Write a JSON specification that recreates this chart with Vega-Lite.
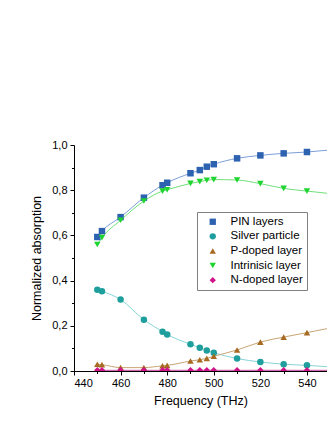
{
  "$schema": "https://vega.github.io/schema/vega-lite/v6.json",
  "width": 253,
  "height": 226,
  "autosize": "none",
  "padding": {"left": 74, "top": 145, "right": 0, "bottom": 52},
  "background": "white",
  "config": {
    "view": {"stroke": null},
    "font": "Liberation Sans",
    "axis": {"domainColor": "black", "tickColor": "black", "labelColor": "black", "titleColor": "black", "grid": false, "labelFont": "Liberation Sans", "titleFont": "Liberation Sans", "labelFontSize": 11, "titleFontSize": 12.5, "titleFontWeight": "normal"},
    "legend": {"strokeColor": "#808080", "fillColor": "white", "padding": 4, "labelFontSize": 11.5, "labelFont": "Liberation Sans", "labelColor": "black", "symbolSize": 40, "rowPadding": 1.6, "symbolOffset": 6, "labelOffset": 12}
  },
  "data": {"values": [
    {"f":450,"s":"PIN layers","v":0.593},{"f":452,"s":"PIN layers","v":0.619},{"f":460,"s":"PIN layers","v":0.681},{"f":470,"s":"PIN layers","v":0.767},{"f":478,"s":"PIN layers","v":0.822},{"f":480,"s":"PIN layers","v":0.833},{"f":490,"s":"PIN layers","v":0.875},{"f":494,"s":"PIN layers","v":0.889},{"f":497,"s":"PIN layers","v":0.904},{"f":500,"s":"PIN layers","v":0.915},{"f":510,"s":"PIN layers","v":0.941},{"f":520,"s":"PIN layers","v":0.954},{"f":530,"s":"PIN layers","v":0.963},{"f":540,"s":"PIN layers","v":0.969},{"f":550,"s":"PIN layers","v":0.978},
    {"f":450,"s":"Silver particle","v":0.360},{"f":452,"s":"Silver particle","v":0.353},{"f":460,"s":"Silver particle","v":0.316},{"f":470,"s":"Silver particle","v":0.227},{"f":478,"s":"Silver particle","v":0.174},{"f":480,"s":"Silver particle","v":0.162},{"f":490,"s":"Silver particle","v":0.118},{"f":494,"s":"Silver particle","v":0.103},{"f":497,"s":"Silver particle","v":0.091},{"f":500,"s":"Silver particle","v":0.081},{"f":510,"s":"Silver particle","v":0.055},{"f":520,"s":"Silver particle","v":0.040},{"f":530,"s":"Silver particle","v":0.030},{"f":540,"s":"Silver particle","v":0.025},{"f":550,"s":"Silver particle","v":0.018},
    {"f":450,"s":"P-doped layer","v":0.030},{"f":452,"s":"P-doped layer","v":0.028},{"f":460,"s":"P-doped layer","v":0.015},{"f":470,"s":"P-doped layer","v":0.015},{"f":478,"s":"P-doped layer","v":0.023},{"f":480,"s":"P-doped layer","v":0.025},{"f":490,"s":"P-doped layer","v":0.044},{"f":494,"s":"P-doped layer","v":0.050},{"f":497,"s":"P-doped layer","v":0.056},{"f":500,"s":"P-doped layer","v":0.065},{"f":510,"s":"P-doped layer","v":0.093},{"f":520,"s":"P-doped layer","v":0.128},{"f":530,"s":"P-doped layer","v":0.150},{"f":540,"s":"P-doped layer","v":0.170},{"f":550,"s":"P-doped layer","v":0.190},
    {"f":450,"s":"Intrinisic layer","v":0.560},{"f":452,"s":"Intrinisic layer","v":0.590},{"f":460,"s":"Intrinisic layer","v":0.667},{"f":470,"s":"Intrinisic layer","v":0.752},{"f":478,"s":"Intrinisic layer","v":0.796},{"f":480,"s":"Intrinisic layer","v":0.802},{"f":490,"s":"Intrinisic layer","v":0.830},{"f":494,"s":"Intrinisic layer","v":0.838},{"f":497,"s":"Intrinisic layer","v":0.844},{"f":500,"s":"Intrinisic layer","v":0.847},{"f":510,"s":"Intrinisic layer","v":0.845},{"f":520,"s":"Intrinisic layer","v":0.829},{"f":530,"s":"Intrinisic layer","v":0.808},{"f":540,"s":"Intrinisic layer","v":0.796},{"f":550,"s":"Intrinisic layer","v":0.785},
    {"f":450,"s":"N-doped layer","v":0.003},{"f":452,"s":"N-doped layer","v":0.003},{"f":460,"s":"N-doped layer","v":0.003},{"f":470,"s":"N-doped layer","v":0.003},{"f":478,"s":"N-doped layer","v":0.003},{"f":480,"s":"N-doped layer","v":0.003},{"f":490,"s":"N-doped layer","v":0.003},{"f":494,"s":"N-doped layer","v":0.003},{"f":497,"s":"N-doped layer","v":0.003},{"f":500,"s":"N-doped layer","v":0.003},{"f":510,"s":"N-doped layer","v":0.003},{"f":520,"s":"N-doped layer","v":0.003},{"f":530,"s":"N-doped layer","v":0.003},{"f":540,"s":"N-doped layer","v":0.003},{"f":550,"s":"N-doped layer","v":0.003}
  ]},
  "encoding": {
    "x": {"field": "f", "type": "quantitative", "title": "Frequency (THz)",
      "scale": {"domain": [440, 548.6], "nice": false, "zero": false},
      "axis": {"values": [440,450,460,470,480,490,500,510,520,530,540], "labelExpr": "datum.value % 20 == 0 ? datum.label : ''", "tickSize": {"expr": "datum.value % 20 == 0 ? 4 : 2.5"}, "labelPadding": 2, "titlePadding": 6}},
    "y": {"field": "v", "type": "quantitative", "title": "Normalized absorption",
      "scale": {"domain": [0, 1], "nice": false},
      "axis": {"values": [0,0.1,0.2,0.3,0.4,0.5,0.6,0.7,0.8,0.9,1.0], "labelExpr": "round(datum.value*10) % 2 == 0 ? replace(format(datum.value, '.1f'), '.', ',') : ''", "tickSize": {"expr": "round(datum.value*10) % 2 == 0 ? 4 : 2.5"}, "labelPadding": 3, "titlePadding": 8}}
  },
  "layer": [
    {"transform": [{"filter": "datum.s == 'PIN layers'"}], "mark": {"type": "line", "interpolate": "monotone", "strokeWidth": 1, "clip": true, "color": "#7d9fd8"}},
    {"transform": [{"filter": "datum.s == 'Silver particle'"}], "mark": {"type": "line", "interpolate": "monotone", "strokeWidth": 1, "clip": true, "color": "#88d4d6"}},
    {"transform": [{"filter": "datum.s == 'P-doped layer'"}], "mark": {"type": "line", "interpolate": "monotone", "strokeWidth": 1, "clip": true, "color": "#c9a574"}},
    {"transform": [{"filter": "datum.s == 'Intrinisic layer'"}], "mark": {"type": "line", "interpolate": "monotone", "strokeWidth": 1, "clip": true, "color": "#6fe07a"}},
    {"transform": [{"filter": "datum.s == 'N-doped layer'"}], "mark": {"type": "line", "interpolate": "monotone", "strokeWidth": 1, "clip": true, "color": "#c8479a"}},
    {
      "transform": [{"filter": "datum.f <= 540"}],
      "mark": {"type": "point", "filled": true, "size": 42, "opacity": 1, "clip": true},
      "encoding": {
        "color": {"field": "s", "type": "nominal", "title": null,
          "scale": {"domain": ["PIN layers","Silver particle","P-doped layer","Intrinisic layer","N-doped layer"], "range": ["#2d62b0","#1e9e9c","#a66a22","#1ed42e","#d0158a"]},
          "legend": {"orient": "none", "legendX": 123, "legendY": 67}},
        "shape": {"field": "s", "type": "nominal", "title": null,
          "scale": {"domain": ["PIN layers","Silver particle","P-doped layer","Intrinisic layer","N-doped layer"], "range": ["square","circle","triangle-up","triangle-down","diamond"]},
          "legend": {"orient": "none", "legendX": 123, "legendY": 67}}
      }
    }
  ]
}
